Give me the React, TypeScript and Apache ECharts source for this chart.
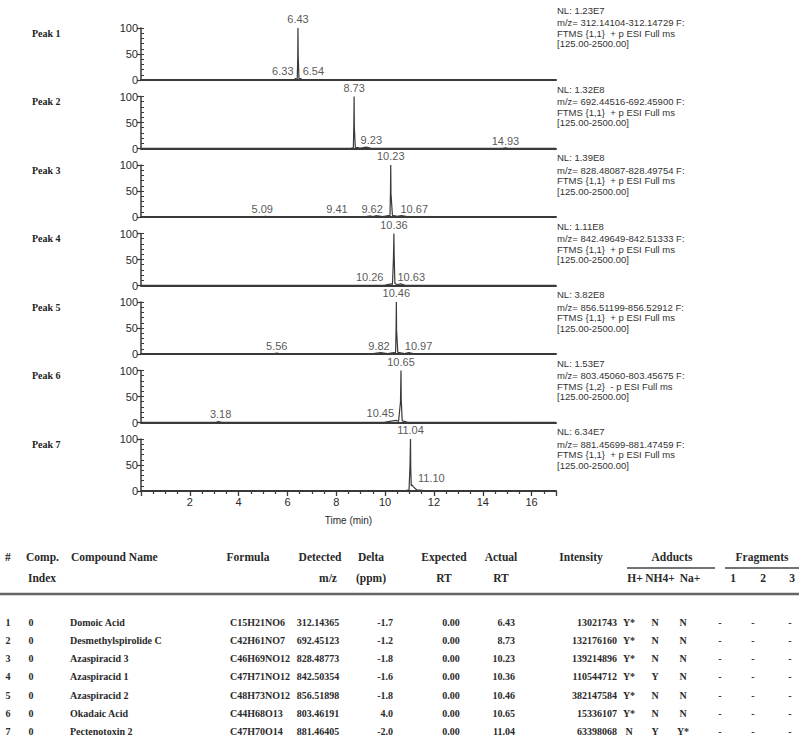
import React, { useEffect, useRef } from 'react';
import * as echarts from 'echarts';

// ---------------- DATA ----------------
const panelNames = ['Peak 1', 'Peak 2', 'Peak 3', 'Peak 4', 'Peak 5', 'Peak 6', 'Peak 7'];

// chromatogram traces: [time (min), relative abundance (%)]
const trace1 = [[0, 0.4], [3, 0.6], [6.0, 0.5], [6.28, 0.8], [6.33, 3], [6.36, 1.2], [6.40, 2], [6.42, 40], [6.43, 100], [6.44, 45], [6.47, 3], [6.51, 1.5], [6.54, 3], [6.59, 0.8], [10, 0.5], [17, 0.4]];
const trace2 = [[0, 0.4], [5, 0.5], [8.6, 0.5], [8.70, 2], [8.72, 50], [8.73, 100], [8.74, 40], [8.78, 2], [9.0, 0.8], [9.23, 2.5], [9.4, 0.6], [14.8, 0.5], [14.93, 1.5], [15.05, 0.5], [17, 0.4]];
const trace3 = [[0, 0.4], [4.95, 0.5], [5.09, 1.5], [5.22, 0.5], [9.2, 0.6], [9.41, 2], [9.5, 0.8], [9.62, 2.5], [9.9, 1], [10.20, 3], [10.22, 50], [10.23, 100], [10.24, 45], [10.30, 3], [10.5, 1.2], [10.67, 2.5], [10.9, 0.6], [17, 0.4]];
const trace4 = [[0, 0.4], [6, 0.5], [10.0, 0.6], [10.26, 3], [10.30, 2], [10.34, 50], [10.36, 100], [10.37, 60], [10.40, 4], [10.5, 1.5], [10.63, 3], [10.8, 0.6], [17, 0.4]];
const trace5 = [[0, 0.4], [5.42, 0.5], [5.56, 2], [5.7, 0.5], [9.5, 0.6], [9.82, 2.5], [10.1, 1], [10.43, 3], [10.45, 50], [10.46, 100], [10.47, 45], [10.52, 3], [10.8, 1], [10.97, 2.5], [11.2, 0.5], [17, 0.4]];
const trace6 = [[0, 0.4], [3.05, 0.5], [3.18, 2], [3.3, 0.5], [10.0, 0.6], [10.45, 4], [10.55, 2], [10.63, 40], [10.65, 100], [10.66, 45], [10.70, 3], [10.9, 0.6], [17, 0.4]];
const trace7 = [[0, 0.3], [10.8, 0.4], [10.98, 2], [11.02, 50], [11.04, 100], [11.05, 45], [11.07, 10], [11.10, 12], [11.16, 8], [11.3, 2], [11.6, 0.6], [17, 0.3]];
const traces = [trace1, trace2, trace3, trace4, trace5, trace6, trace7];

// annotated peaks per panel: [time, height]
const peaks1 = [[6.43, 100], [6.33, 3], [6.54, 3]];
const peaks2 = [[8.73, 100], [9.23, 2.5], [14.93, 1.5]];
const peaks3 = [[10.23, 100], [5.09, 1.5], [9.41, 2], [9.62, 2.5], [10.67, 2.5]];
const peaks4 = [[10.36, 100], [10.26, 3], [10.63, 3]];
const peaks5 = [[10.46, 100], [5.56, 2], [9.82, 2.5], [10.97, 2.5]];
const peaks6 = [[10.65, 100], [3.18, 2], [10.45, 4]];
const peaks7 = [[11.04, 100], [11.10, 12]];
const peaks = [peaks1, peaks2, peaks3, peaks4, peaks5, peaks6, peaks7];

const nlValues = ['NL: 1.23E7', 'NL: 1.32E8', 'NL: 1.39E8', 'NL: 1.11E8', 'NL: 3.82E8', 'NL: 1.53E7', 'NL: 6.34E7'];
const mzRanges = [
  'm/z= 312.14104-312.14729 F:',
  'm/z= 692.44516-692.45900 F:',
  'm/z= 828.48087-828.49754 F:',
  'm/z= 842.49649-842.51333 F:',
  'm/z= 856.51199-856.52912 F:',
  'm/z= 803.45060-803.45675 F:',
  'm/z= 881.45699-881.47459 F:',
];
const scanFilters = [
  'FTMS {1,1}  + p ESI Full ms',
  'FTMS {1,1}  + p ESI Full ms',
  'FTMS {1,1}  + p ESI Full ms',
  'FTMS {1,1}  + p ESI Full ms',
  'FTMS {1,1}  + p ESI Full ms',
  'FTMS {1,2}  - p ESI Full ms',
  'FTMS {1,1}  + p ESI Full ms',
];
const massRange = '[125.00-2500.00]';

const xLabelTimes = [2, 4, 6, 8, 10, 12, 14, 16];

// table
const rowNumbers = ['1', '2', '3', '4', '5', '6', '7'];
const compIndex = ['0', '0', '0', '0', '0', '0', '0'];
const compoundNames = ['Domoic Acid', 'Desmethylspirolide C', 'Azaspiracid 3', 'Azaspiracid 1', 'Azaspiracid 2', 'Okadaic Acid', 'Pectenotoxin 2'];
const formulas = ['C15H21NO6', 'C42H61NO7', 'C46H69NO12', 'C47H71NO12', 'C48H73NO12', 'C44H68O13', 'C47H70O14'];
const detectedMz = ['312.14365', '692.45123', '828.48773', '842.50354', '856.51898', '803.46191', '881.46405'];
const deltaPpm = ['-1.7', '-1.2', '-1.8', '-1.6', '-1.8', '4.0', '-2.0'];
const expectedRT = ['0.00', '0.00', '0.00', '0.00', '0.00', '0.00', '0.00'];
const actualRT = ['6.43', '8.73', '10.23', '10.36', '10.46', '10.65', '11.04'];
const intensities = ['13021743', '132176160', '139214896', '110544712', '382147584', '15336107', '63398068'];
const adductH = ['Y*', 'Y*', 'Y*', 'Y*', 'Y*', 'Y*', 'N'];
const adductNH4 = ['N', 'N', 'N', 'Y', 'N', 'N', 'Y'];
const adductNa = ['N', 'N', 'N', 'N', 'N', 'N', 'Y*'];
const frag1 = ['-', '-', '-', '-', '-', '-', '-'];
const frag2 = ['-', '-', '-', '-', '-', '-', '-'];
const frag3 = ['-', '-', '-', '-', '-', '-', '-'];

// ---------------- LAYOUT / STYLE ----------------
const L = {
  plotLeft: 141,
  plotWidth: 415,
  firstBaseline: 80,
  panelStep: 68.5,
  panelHeight: 52,
  nlX: 557,
  tableRow1: 622,
  tableRowStep: 18.3,
  head1: 557,
  head2: 578,
  ruleY: 594,
  underlineY: 568,
};
// label placement per annotated peak: [align, dx]
const labelPlace: [string, number][][] = [
  [['center', 0], ['right', -2], ['left', 2]],
  [['center', 0], ['center', 5], ['center', 0]],
  [['center', 0], ['center', -3], ['right', -23], ['right', 7], ['left', -1]],
  [['center', 0], ['right', -8], ['left', -3]],
  [['center', 0], ['center', 0], ['right', 9], ['left', -4]],
  [['center', 0], ['center', 2], ['right', -2]],
  [['center', 0], ['left', 6]],
];
const SANS = '"Liberation Sans", Arial, sans-serif';
const SERIF = '"Liberation Serif", "Times New Roman", serif';
const AX = '#3a3a3a';
const TXT = '#2a2a2a';

const tableCols = [
  { vals: rowNumbers, x: 8, align: 'center' },
  { vals: compIndex, x: 31, align: 'center' },
  { vals: compoundNames, x: 70, align: 'left' },
  { vals: formulas, x: 230, align: 'left' },
  { vals: detectedMz, x: 318, align: 'center' },
  { vals: deltaPpm, x: 393, align: 'right' },
  { vals: expectedRT, x: 451, align: 'center' },
  { vals: actualRT, x: 515, align: 'right' },
  { vals: intensities, x: 617, align: 'right' },
  { vals: adductH, x: 629, align: 'center' },
  { vals: adductNH4, x: 655, align: 'center' },
  { vals: adductNa, x: 683, align: 'center' },
  { vals: frag1, x: 720, align: 'center' },
  { vals: frag2, x: 753, align: 'center' },
  { vals: frag3, x: 790, align: 'center' },
];
const headers1 = [
  ['#', 5, 'left'], ['Comp.', 26, 'left'], ['Compound Name', 71, 'left'], ['Formula', 248, 'center'],
  ['Detected', 320, 'center'], ['Delta', 371, 'center'], ['Expected', 444, 'center'], ['Actual', 501, 'center'],
  ['Intensity', 581, 'center'], ['Adducts', 672, 'center'], ['Fragments', 762, 'center'],
];
const headers2 = [
  ['Index', 42, 'center'], ['m/z', 328, 'center'], ['(ppm)', 371, 'center'], ['RT', 444, 'center'], ['RT', 501, 'center'],
  ['H+', 635, 'center'], ['NH4+', 660, 'center'], ['Na+', 690, 'center'], ['1', 733, 'center'], ['2', 763, 'center'], ['3', 792, 'center'],
];

function txt(text: string, x: number, y: number, opts: any = {}) {
  const align = opts.align || 'left';
  const va = opts.va || 'middle';
  return {
    type: 'text',
    x,
    y,
    silent: true,
    style: {
      text,
      fill: opts.fill || TXT,
      fontSize: opts.fontSize || 10,
      fontFamily: opts.fontFamily || SANS,
      fontWeight: opts.fontWeight || 'normal',
      align,
      textAlign: align,
      verticalAlign: va,
      textVerticalAlign: va,
    },
  };
}

function buildOption() {
  const n = traces.length;
  const grids: any[] = [];
  const xAxes: any[] = [];
  const yAxes: any[] = [];
  const series: any[] = [];
  const graphics: any[] = [];

  for (let i = 0; i < n; i++) {
    const base = L.firstBaseline + i * L.panelStep;
    const last = i === n - 1;
    grids.push({ left: L.plotLeft, top: base - L.panelHeight, width: L.plotWidth, height: L.panelHeight, containLabel: false, outerBoundsMode: 'none' });
    xAxes.push({
      type: 'value', gridIndex: i, min: 0, max: 17, interval: 2,
      axisLine: { show: true, onZero: false, lineStyle: { color: AX, width: 2 } },
      axisTick: { show: last, length: 5, lineStyle: { color: AX, width: 1.3 } },
      minorTick: { show: last, splitNumber: 4, length: 3, lineStyle: { color: AX, width: 1.2 } },
      axisLabel: {
        show: last, fontSize: 11, color: TXT, fontFamily: SANS, margin: 5,
        formatter: (v: number) => (xLabelTimes.indexOf(v) >= 0 ? String(v) : ''),
      },
      splitLine: { show: false },
      name: last ? 'Time (min)' : '',
      nameLocation: 'middle',
      nameGap: 24,
      nameTextStyle: { fontSize: 10, color: TXT, fontFamily: SANS },
    });
    yAxes.push({
      type: 'value', gridIndex: i, position: 'left', min: 0, max: 100, interval: 50,
      axisLine: { show: true, lineStyle: { color: AX, width: 1.5 } },
      axisTick: { show: true, length: 4, lineStyle: { color: AX, width: 1.2 } },
      axisLabel: { fontSize: 11, color: TXT, fontFamily: SANS, margin: 3 },
      splitLine: { show: false },
    });
    yAxes.push({
      type: 'value', gridIndex: i, position: 'left', offset: 0, min: 0, max: 100, interval: 10,
      axisLine: { show: false },
      axisTick: { show: true, inside: true, length: 3, lineStyle: { color: AX, width: 1 } },
      axisLabel: { show: false },
      splitLine: { show: false },
    });
    series.push({
      type: 'line', xAxisIndex: i, yAxisIndex: 2 * i, data: traces[i],
      showSymbol: false, symbol: 'none', clip: false, silent: true,
      lineStyle: { color: '#3a3a3a', width: 1.2 },
    });
    series.push({
      type: 'scatter', xAxisIndex: i, yAxisIndex: 2 * i, symbolSize: 1, clip: false, silent: true,
      itemStyle: { color: 'rgba(0,0,0,0)' },
      data: peaks[i].map((p, k) => ({
        value: p,
        label: {
          show: true,
          formatter: p[0].toFixed(2),
          position: 'top',
          distance: p[1] >= 100 ? 3 : 1,
          align: labelPlace[i][k][0],
          offset: [labelPlace[i][k][1], 0],
          fontSize: 11,
          fontFamily: SANS,
          color: TXT,
        },
      })),
    });

    // panel name
    graphics.push(txt(panelNames[i], 32, base - 47, { fontFamily: SERIF, fontWeight: 'bold', fontSize: 10, fill: '#222' }));
    // NL block
    const top = i === 0 ? 5 : L.firstBaseline + (i - 1) * L.panelStep + 4;
    const blk = [nlValues[i], mzRanges[i], scanFilters[i], massRange];
    const offs = [0, 12.5, 23, 33.5];
    blk.forEach((s, k) => graphics.push(txt(s, L.nlX, top + offs[k], { va: 'top', fontSize: 9.5, fill: '#333' })));
  }

  // table headers
  headers1.forEach((h: any) => graphics.push(txt(h[0], h[1], L.head1, { align: h[2], fontFamily: SERIF, fontWeight: 'bold', fontSize: 11.5 })));
  headers2.forEach((h: any) => graphics.push(txt(h[0], h[1], L.head2, { align: h[2], fontFamily: SERIF, fontWeight: 'bold', fontSize: 11.5 })));
  // underlines and rule
  graphics.push({ type: 'line', silent: true, shape: { x1: 627, y1: L.underlineY, x2: 715, y2: L.underlineY }, style: { stroke: '#444', lineWidth: 1.5 } });
  graphics.push({ type: 'line', silent: true, shape: { x1: 725, y1: L.underlineY, x2: 799, y2: L.underlineY }, style: { stroke: '#444', lineWidth: 1.5 } });
  graphics.push({ type: 'line', silent: true, shape: { x1: 0, y1: L.ruleY, x2: 799, y2: L.ruleY }, style: { stroke: '#666', lineWidth: 2.5 } });
  // rows
  tableCols.forEach((c) => {
    c.vals.forEach((v, r) => {
      graphics.push(txt(v, c.x, L.tableRow1 + r * L.tableRowStep, { align: c.align, fontFamily: SERIF, fontWeight: 'bold', fontSize: 10 }));
    });
  });

  return {
    animation: false,
    backgroundColor: '#ffffff',
    grid: grids,
    xAxis: xAxes,
    yAxis: yAxes,
    series,
    graphic: { elements: graphics },
  };
}

export default function App() {
  const ref = useRef<HTMLDivElement>(null);
  useEffect(() => {
    if (!ref.current) return;
    const chart = echarts.init(ref.current, undefined, { renderer: 'svg' });
    chart.setOption(buildOption() as any);
    return () => chart.dispose();
  }, []);
  return (
    <div
      ref={ref}
      style={{ position: 'absolute', left: 0, top: 0, width: 799, height: 742, background: '#fff' }}
    />
  );
}
